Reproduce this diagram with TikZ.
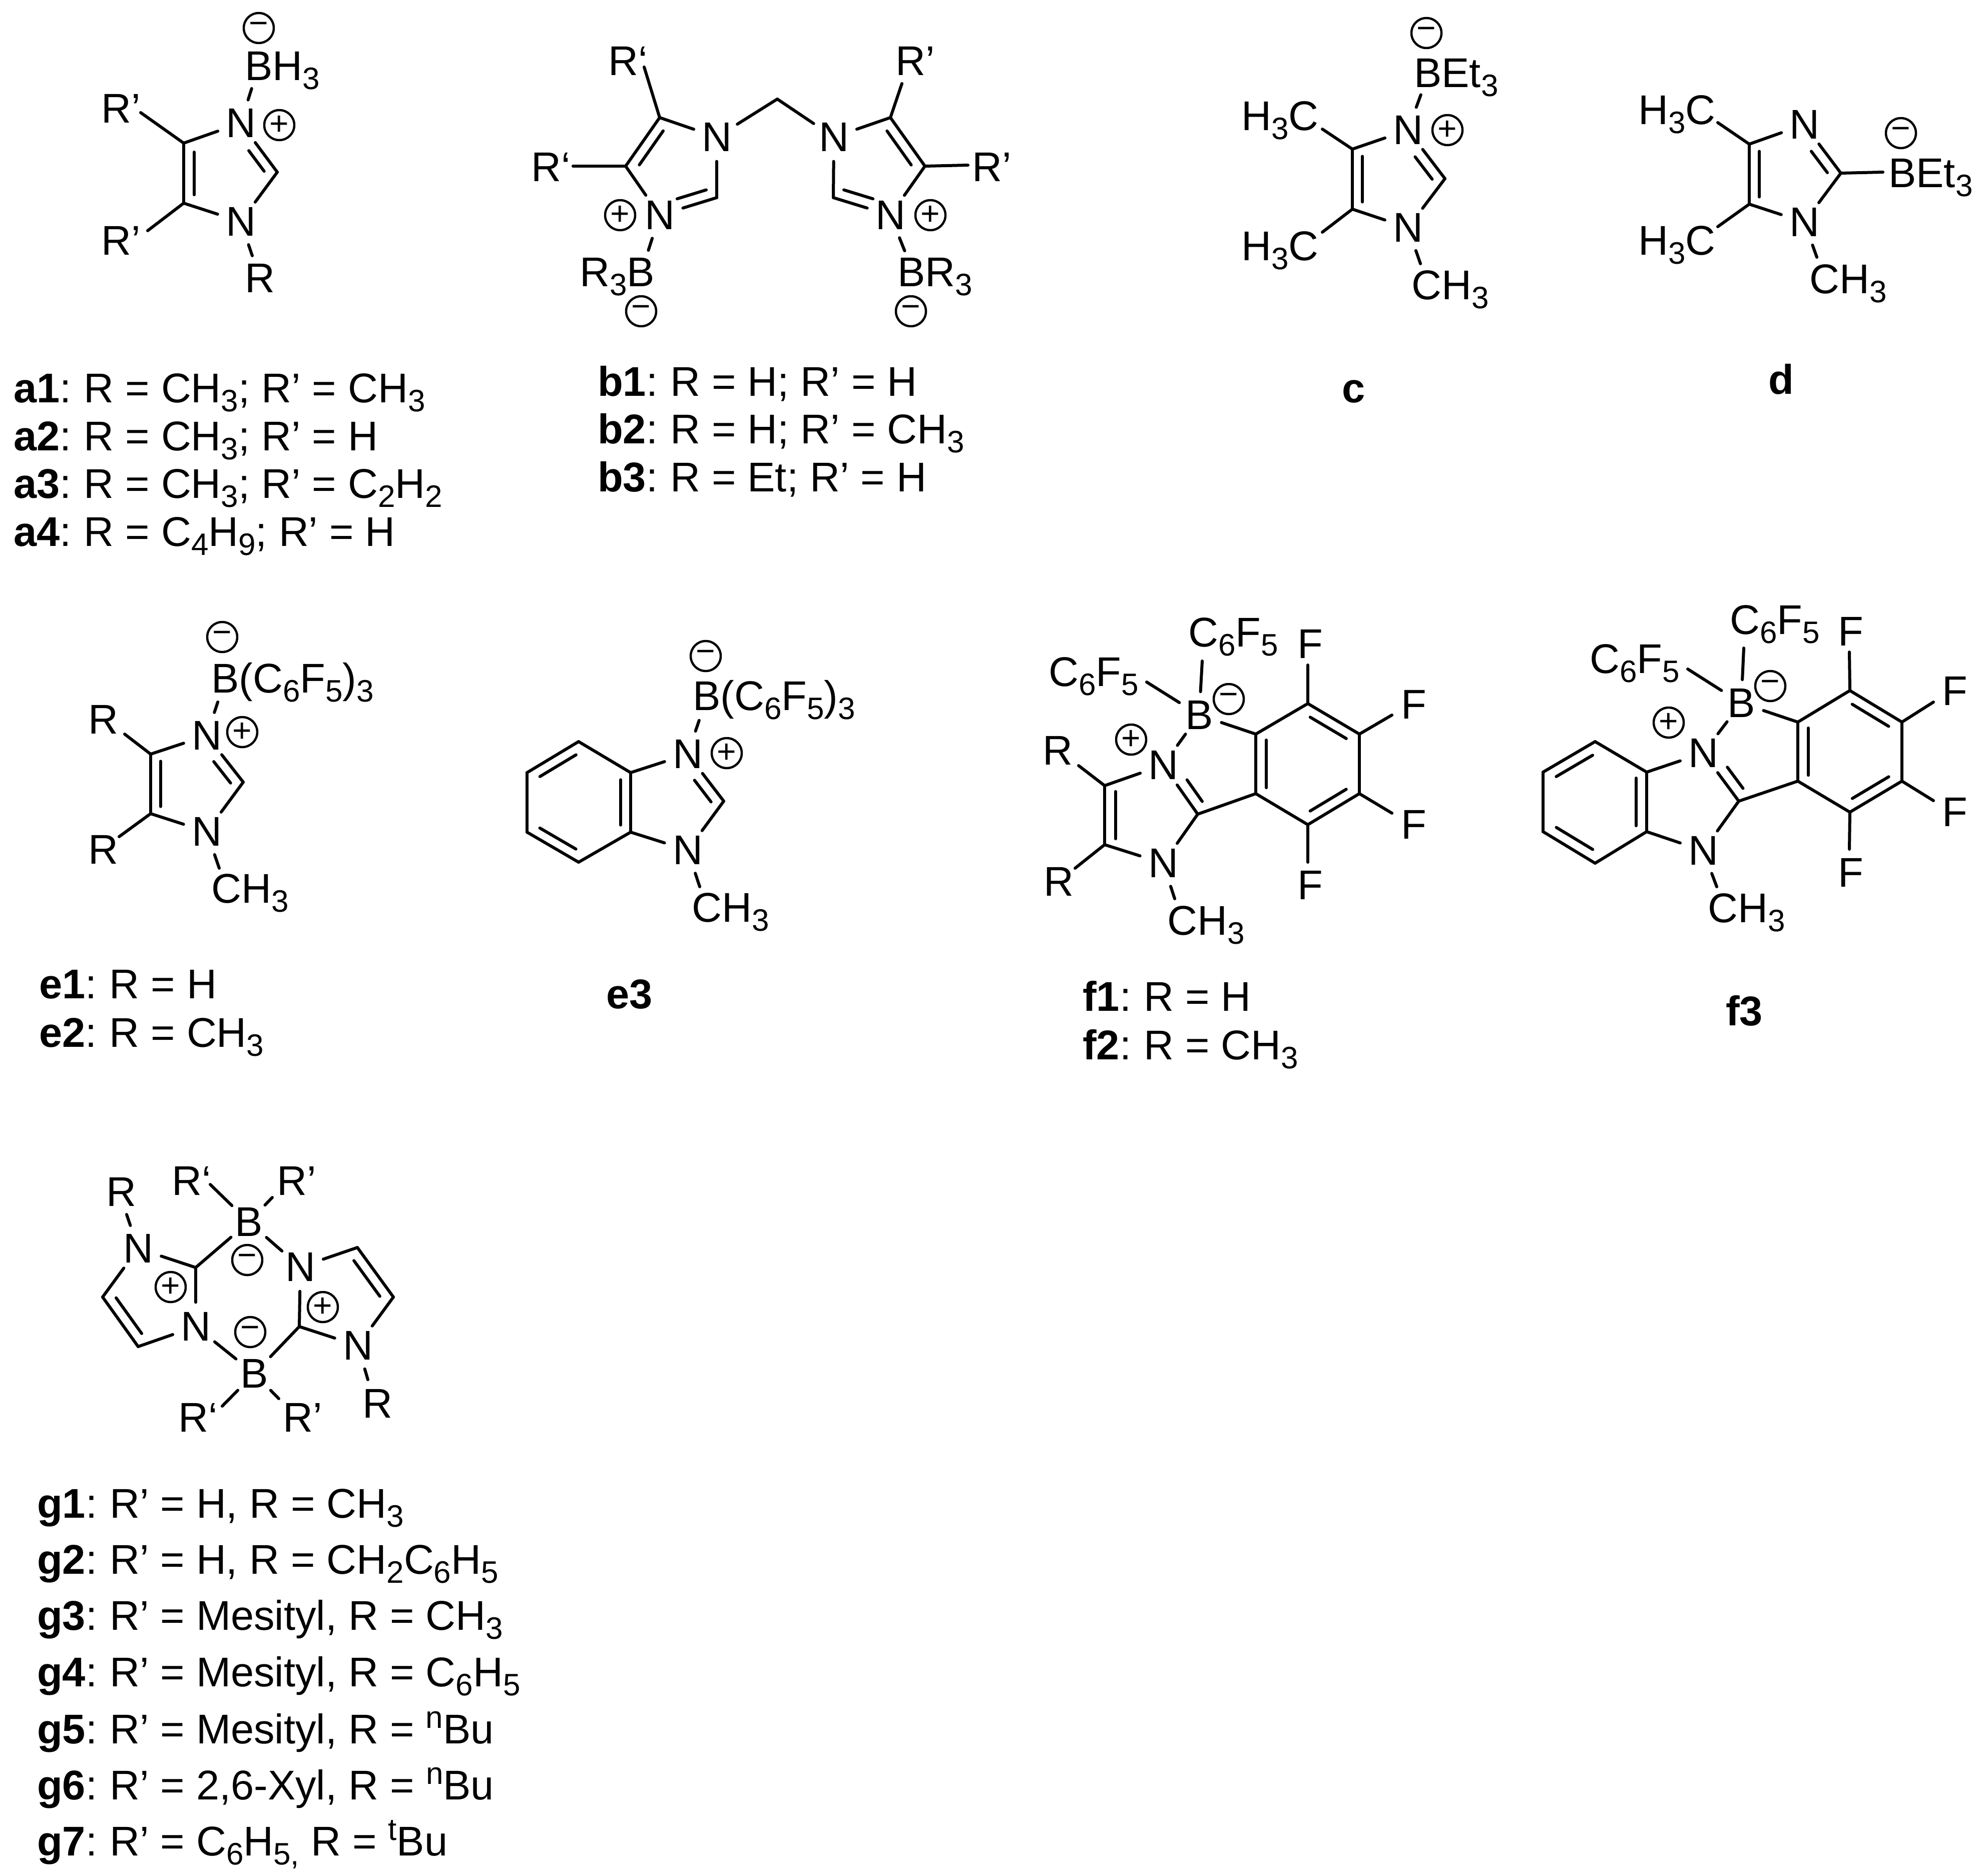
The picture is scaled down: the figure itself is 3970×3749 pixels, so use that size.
\documentclass[tikz,border=0pt]{standalone}
\usepackage{fontspec}
\setmainfont{Liberation Sans}
\usetikzlibrary{calc}
\newcommand{\sbb}[1]{\raisebox{-18pt}{\fontsize{62}{62}\selectfont #1}}
\newcommand{\spp}[1]{\raisebox{31pt}{\fontsize{62}{62}\selectfont #1}}
\newcommand{\hd}[1]{\textbf{#1}:\hspace{25pt}}
\newcommand{\atoms}[1]{\foreach \nm/\xx/\yy/\tx in {#1}{\node[atom] (\nm) at (\xx,\yy) {\tx};}}
\newcommand{\stops}[1]{\foreach \nm/\xx/\yy in {#1}{\node[stopper] (\nm) at (\xx,\yy) {};}}
\newcommand{\pts}[1]{\foreach \nm/\xx/\yy in {#1}{\coordinate (\nm) at (\xx,\yy);}}
\newcommand{\bonds}[1]{\foreach \pp/\qq in {#1}{\draw[bond] (\pp) -- (\qq);}}
\newcommand{\dbl}[5]{\draw[bond] ($(#1)!#4!(#2)!#3pt!90:(#2)$) -- ($(#1)!#5!(#2)!#3pt!90:(#2)$);}
\newcommand{\chgp}[3]{\node[chg] (#1) at (#2,#3) {+};}
\newcommand{\chgm}[3]{\node[chg] (#1) at (#2,#3) {−};}
\newcommand{\lb}[4]{\node[lab] (#1) at (#2,#3) {#4};}
\tikzset{
  lab/.style={anchor=base west,inner sep=0pt,xshift=-5pt,font=\fontsize{83}{90}\selectfont},
  atom/.style={circle,inner sep=5pt,font=\fontsize{83}{90}\selectfont},
  stopper/.style={circle,inner sep=0pt,minimum size=94pt},
  chg/.style={circle,draw=black,line width=4.5pt,minimum size=60pt,inner sep=0pt,font=\fontsize{66}{66}\selectfont},
  bond/.style={draw=black,line width=6pt,line cap=round}
}
\begin{document}
\begin{tikzpicture}[x=1pt,y=-1pt]
\useasboundingbox (0,0) rectangle (3970,3749);
\fill[white] (0,0) rectangle (3970,3749);

% ---------- a
\atoms{aN1/481/246/N,aN3/481/443/N}
\stops{aB/517/132}
\pts{aC4/367/286,aC5/367/406,aC2/554/344,aE1/281/225,aE2/295/461,aE3/504/511}
\bonds{aN1/aB,aC4/aN1,aC4/aC5,aC5/aN3,aN1/aC2,aC2/aN3,aC4/aE1,aC5/aE2,aN3/aE3}
\dbl{aC4}{aC5}{21}{.15}{.86}
\dbl{aN1}{aC2}{-20}{.44}{.86}
\lb{aBH}{494}{161}{BH\sbb{3}}
\lb{aR1}{207}{246}{R’}
\lb{aR2}{207}{509}{R’}
\lb{aR3}{494}{584}{R}
\chgm{aM}{517}{56}
\chgp{aP}{558}{250}
\lb{la1}{32}{804}{\hd{a1}R = CH\sbb{3}; R’ = CH\sbb{3}}
\lb{la2}{32}{900}{\hd{a2}R = CH\sbb{3}; R’ = H}
\lb{la3}{32}{995}{\hd{a3}R = CH\sbb{3}; R’ = C\sbb{2}H\sbb{2}}
\lb{la4}{32}{1091}{\hd{a4}R = C\sbb{4}H\sbb{9}; R’ = H}

% ---------- b
\atoms{bNa/1432/274/N,bNb/1318/430/N,bNc/1666/274/N,bNd/1779/430/N}
\stops{bBa/1281/545,bBb/1825/545}
\pts{bC1/1318/235,bC2/1250/332,bC3/1432/395,bC4/1779/235,bC5/1848/332,bC6/1665/395,bM/1553/198,
     bE1/1287/134,bE2/1145/332,bE3/1802/167,bE4/1934/330}
\bonds{bC1/bC2,bC1/bNa,bNa/bC3,bC3/bNb,bC2/bNb,bNb/bBa,bM/bNa,bM/bNc,bC4/bNc,bNc/bC6,bC6/bNd,bC5/bNd,bC4/bC5,bNd/bBb,bC1/bE1,bC2/bE2,bC4/bE3,bC5/bE4}
\dbl{bC1}{bC2}{21}{.15}{.85}
\dbl{bNb}{bC3}{21}{.36}{.87}
\dbl{bC4}{bC5}{-21}{.15}{.85}
\dbl{bNd}{bC6}{-21}{.36}{.87}
\lb{bR1}{1220}{151}{R‘}
\lb{bR2}{1066}{362}{R‘}
\lb{bR3}{1794}{151}{R’}
\lb{bR4}{1947}{362}{R’}
\lb{bT1}{1163}{572}{R\sbb{3}B}
\lb{bT2}{1798}{572}{BR\sbb{3}}
\chgp{bP1}{1239}{430}
\chgp{bP2}{1859}{430}
\chgm{bM1}{1281}{622}
\chgm{bM2}{1820}{622}
\lb{lb1}{1199}{791}{\hd{b1}R = H; R’ = H}
\lb{lb2}{1199}{886}{\hd{b2}R = H; R’ = CH\sbb{3}}
\lb{lb3}{1199}{982}{\hd{b3}R = Et; R’ = H}

% ---------- c
\atoms{cN1/2813/260/N,cN3/2813/455/N}
\stops{cB/2855/145}
\pts{cC4/2702/298,cC5/2702/418,cC2/2887/357,cE1/2642/258,cE2/2642/464,cE3/2838/527}
\bonds{cN1/cB,cC4/cN1,cC4/cC5,cC5/cN3,cN1/cC2,cC2/cN3,cC4/cE1,cC5/cE2,cN3/cE3}
\dbl{cC4}{cC5}{20}{.12}{.88}
\dbl{cN1}{cC2}{-21}{.42}{.88}
\lb{cT1}{2830}{175}{BEt\sbb{3}}
\lb{cT2}{2485}{261}{H\sbb{3}C}
\lb{cT3}{2485}{520}{H\sbb{3}C}
\lb{cT4}{2825}{598}{CH\sbb{3}}
\chgm{cM}{2850}{66}
\chgp{cP}{2892}{260}
\lb{lc}{2686}{804}{\textbf{c}}

% ---------- d
\atoms{dN1/3605/249/N,dN3/3605/444/N}
\pts{dC4/3495/288,dC5/3495/408,dC2/3678/346,dE1/3432/245,dE2/3432/453,dE3/3630/514,dE4/3762/344}
\bonds{dC4/dN1,dC4/dC5,dC5/dN3,dN1/dC2,dC2/dN3,dC4/dE1,dC5/dE2,dN3/dE3,dC2/dE4}
\dbl{dC4}{dC5}{20}{.12}{.88}
\dbl{dN1}{dC2}{-21}{.42}{.86}
\lb{dT1}{3778}{374}{BEt\sbb{3}}
\lb{dT2}{3278}{249}{H\sbb{3}C}
\lb{dT3}{3278}{509}{H\sbb{3}C}
\lb{dT4}{3620}{586}{CH\sbb{3}}
\chgm{dM}{3798}{266}
\lb{ld}{3538}{787}{\textbf{d}}

% ---------- e1/e2
\atoms{eN1/413/1470/N,eN3/413/1662/N}
\stops{eB/450/1358}
\pts{eC4/301/1507,eC5/301/1626,eC2/486/1563,eE1/249/1467,eE2/238/1672,eE3/438/1735}
\bonds{eN1/eB,eC4/eN1,eC4/eC5,eC5/eN3,eN1/eC2,eC2/eN3,eC4/eE1,eC5/eE2,eN3/eE3}
\dbl{eC4}{eC5}{20}{.12}{.88}
\dbl{eN1}{eC2}{-21}{.42}{.88}
\lb{eT1}{427}{1384}{B(C\sbb{6}F\sbb{5})\sbb{3}}
\lb{eT2}{181}{1466}{R}
\lb{eT3}{181}{1726}{R}
\lb{eT4}{427}{1804}{CH\sbb{3}}
\chgm{eM}{444}{1273}
\chgp{eP}{484}{1463}
\lb{le1}{83}{1995}{\hd{e1}R = H}
\lb{le2}{83}{2092}{\hd{e2}R = CH\sbb{3}}

% ---------- e3
\atoms{gN1/1374/1507/N,gN3/1374/1699/N}
\stops{gB/1412/1395}
\pts{gC4/1260/1544,gC5/1260/1663,gC2/1446/1601,gH1/1156/1482,gH2/1053/1544,gH3/1053/1663,gH4/1156/1723,gE3/1398/1772}
\bonds{gN1/gB,gC4/gN1,gC4/gC5,gC5/gN3,gN1/gC2,gC2/gN3,gC4/gH1,gH1/gH2,gH2/gH3,gH3/gH4,gH4/gC5,gN3/gE3}
\dbl{gC4}{gC5}{-20}{.12}{.88}
\dbl{gH1}{gH2}{20}{.15}{.85}
\dbl{gH3}{gH4}{20}{.15}{.85}
\dbl{gN1}{gC2}{-21}{.42}{.88}
\lb{gT1}{1389}{1419}{B(C\sbb{6}F\sbb{5})\sbb{3}}
\lb{gT4}{1387}{1842}{CH\sbb{3}}
\chgm{gM}{1410}{1311}
\chgp{gP}{1452}{1505}
\lb{le3}{1216}{2015}{\textbf{e3}}

% ---------- f1/f2
\atoms{fN1/2324/1529/N,fN3/2324/1725/N,fB/2396/1429/B}
\pts{fC4/2207/1570,fC5/2207/1688,fC2/2393/1627,fA1/2509/1467,fA2/2613/1406,fA3/2716/1467,fA4/2716/1586,fA5/2613/1648,fA6/2509/1586,
     fE1/2155/1530,fE2/2148/1735,fE3/2347/1796,fE4/2402/1321,fE5/2291/1363,fF1/2613/1329,fF2/2781/1429,fF3/2781/1625,fF4/2613/1723}
\bonds{fN1/fB,fC4/fN1,fC4/fC5,fC5/fN3,fN1/fC2,fC2/fN3,fC4/fE1,fC5/fE2,fN3/fE3,fB/fE4,fB/fE5,fB/fA1,fC2/fA6,fA1/fA2,fA2/fA3,fA3/fA4,fA4/fA5,fA5/fA6,fA6/fA1,fA2/fF1,fA3/fF2,fA4/fF3,fA5/fF4}
\dbl{fC4}{fC5}{22}{.1}{.9}
\dbl{fN1}{fC2}{22}{.43}{.87}
\dbl{fA1}{fA6}{21}{.1}{.9}
\dbl{fA2}{fA3}{-21}{.15}{.85}
\dbl{fA4}{fA5}{-21}{.15}{.85}
\lb{fT1}{2379}{1292}{C\sbb{6}F\sbb{5}}
\lb{fT2}{2100}{1371}{C\sbb{6}F\sbb{5}}
\lb{fT3}{2088}{1528}{R}
\lb{fT4}{2090}{1790}{R}
\lb{fT5}{2337}{1868}{CH\sbb{3}}
\lb{fT6}{2597}{1315}{F}
\lb{fT7}{2804}{1436}{F}
\lb{fT8}{2804}{1676}{F}
\lb{fT9}{2597}{1797}{F}
\chgm{fM}{2455}{1397}
\chgp{fP}{2260}{1478}
\lb{lf1}{2168}{2020}{\hd{f1}R = H}
\lb{lf2}{2168}{2117}{\hd{f2}R = CH\sbb{3}}

% ---------- f3
\atoms{hN1/3403/1505/N,hN3/3403/1700/N,hB/3479/1405/B}
\pts{hC4/3290/1543,hC5/3290/1662,hC2/3474/1601,hL1/3187/1482,hL2/3083/1543,hL3/3083/1662,hL4/3187/1725,
     hA1/3592/1443,hA2/3696/1380,hA3/3800/1443,hA4/3800/1561,hA5/3696/1623,hA6/3592/1561,
     hE3/3430/1772,hE4/3484/1295,hE5/3372/1337,hF1/3695/1303,hF2/3863/1403,hF3/3863/1600,hF4/3695/1697}
\bonds{hN1/hB,hC4/hN1,hC4/hC5,hC5/hN3,hN1/hC2,hC2/hN3,hC4/hL1,hL1/hL2,hL2/hL3,hL3/hL4,hL4/hC5,hN3/hE3,hB/hE4,hB/hE5,hB/hA1,hC2/hA6,hA1/hA2,hA2/hA3,hA3/hA4,hA4/hA5,hA5/hA6,hA6/hA1,hA2/hF1,hA3/hF2,hA4/hF3,hA5/hF4}
\dbl{hC4}{hC5}{-21}{.1}{.9}
\dbl{hL1}{hL2}{21}{.15}{.85}
\dbl{hL3}{hL4}{21}{.15}{.85}
\dbl{hN1}{hC2}{22}{.43}{.87}
\dbl{hA1}{hA6}{21}{.1}{.9}
\dbl{hA2}{hA3}{-21}{.15}{.85}
\dbl{hA4}{hA5}{-21}{.15}{.85}
\lb{hT1}{3461}{1267}{C\sbb{6}F\sbb{5}}
\lb{hT2}{3181}{1345}{C\sbb{6}F\sbb{5}}
\lb{hT5}{3417}{1843}{CH\sbb{3}}
\lb{hT6}{3677}{1290}{F}
\lb{hT7}{3885}{1409}{F}
\lb{hT8}{3885}{1651}{F}
\lb{hT9}{3677}{1772}{F}
\chgm{hM}{3537}{1371}
\chgp{hP}{3334}{1444}
\lb{lf3}{3453}{2049}{\textbf{f3}}

% ---------- g
\atoms{kN1/276/2495/N,kN2/391/2651/N,kN3/600/2532/N,kN4/715/2689/N,kB1/497/2442/B,kB2/508/2745/B}
\pts{kC1/391/2533,kC2/598/2651,kV1/205/2592,kV2/276/2691,kV3/714/2493,kV4/786/2592,
     kE1/253/2427,kE2/420/2367,kE3/544/2393,kE4/444/2810,kE5/557/2795,kE6/735/2757}
\bonds{kN1/kC1,kC1/kN2,kC1/kB1,kB1/kN3,kN3/kC2,kC2/kN4,kC2/kB2,kB2/kN2,kN1/kV1,kV1/kV2,kV2/kN2,kN3/kV3,kV3/kV4,kV4/kN4,kN1/kE1,kB1/kE2,kB1/kE3,kB2/kE4,kB2/kE5,kN4/kE6}
\dbl{kV1}{kV2}{21}{.14}{.86}
\dbl{kV3}{kV4}{-21}{.14}{.86}
\lb{kT1}{217}{2410}{R}
\lb{kT2}{348}{2388}{R‘}
\lb{kT3}{558}{2388}{R’}
\lb{kT4}{361}{2861}{R‘}
\lb{kT5}{570}{2861}{R’}
\lb{kT6}{729}{2833}{R}
\chgm{kM1}{494}{2518}
\chgm{kM2}{500}{2662}
\chgp{kP1}{341}{2572}
\chgp{kP2}{645}{2612}
\lb{lg1}{79}{3033}{\hd{g1}R’ = H, R = CH\sbb{3}}
\lb{lg2}{79}{3145}{\hd{g2}R’ = H, R = CH\sbb{2}C\sbb{6}H\sbb{5}}
\lb{lg3}{79}{3257}{\hd{g3}R’ = Mesityl, R = CH\sbb{3}}
\lb{lg4}{79}{3370}{\hd{g4}R’ = Mesityl, R = C\sbb{6}H\sbb{5}}
\lb{lg5}{79}{3484}{\hd{g5}R’ = Mesityl, R = \spp{n}Bu}
\lb{lg6}{79}{3596}{\hd{g6}R’ = 2,6-Xyl, R = \spp{n}Bu}
\lb{lg7}{79}{3708}{\hd{g7}R’ = C\sbb{6}H\sbb{5,} R = \spp{t}Bu}
\end{tikzpicture}
\end{document}
